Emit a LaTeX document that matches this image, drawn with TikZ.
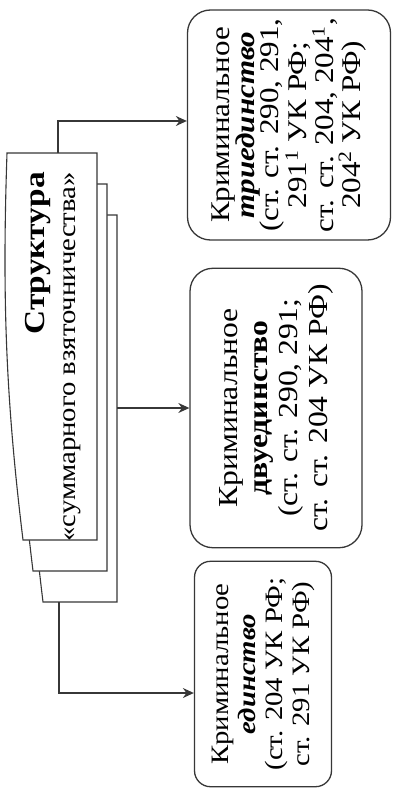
\documentclass[tikz,border=0pt]{standalone}
\usepackage{fontspec}
\setmainfont{Liberation Serif}
\usepackage{tikz}
\usetikzlibrary{arrows.meta,positioning}
\definecolor{inkgray}{RGB}{55,55,55}

\begin{document}
\begin{tikzpicture}[x=1pt, y=1pt,
    outcome/.style={rectangle, draw=inkgray, line width=1.3pt, rounded corners=23pt, align=center, inner sep=0pt, fill=white, xscale=1.15},
    sheet/.style={draw=inkgray, line width=1.1pt, fill=white},
    conn/.style={draw=inkgray, line width=1.2pt, -{Stealth[length=11pt, width=10pt]}}
]
\begin{scope}[rotate=90, transform shape]
    \useasboundingbox (-791,-392) rectangle (0,0);

    % stacked sheets of the structure
    \draw[sheet, shift={(-62,-20)}] (-540,-97) -- (-540,-23) .. controls (-400,-6) and (-300,-2) .. (-153,-7) -- (-153,-97) -- cycle;
    \draw[sheet, shift={(-31,-10)}] (-540,-97) -- (-540,-23) .. controls (-400,-6) and (-300,-2) .. (-153,-7) -- (-153,-97) -- cycle;
    \draw[sheet] (-540,-97) -- (-540,-23) .. controls (-400,-6) and (-300,-2) .. (-153,-7) -- (-153,-97) -- cycle;
    \node[anchor=east, align=right, inner sep=0pt, xscale=1.15, font=\fontsize{25}{31}\selectfont] (struct) at (-172,-53)
        {{\fontsize{29}{31}\selectfont\textbf{Структура}}\\«суммарного взяточничества»};

    \coordinate (pg1e) at (-153,-58);
    \coordinate (pg3s) at (-408,-117);
    \coordinate (pg3w) at (-602,-59);
    \coordinate (b1) at (-121,-58);
    \coordinate (b3) at (-693,-59);

    \node[outcome, minimum width=200pt, minimum height=203pt, font=\fontsize{27}{24.5}\selectfont] (trio) at (-125,-289)
        {Криминальное\\ \textbf{\textit{триединство}}\\ (ст. ст. 290, 291,\\ 291\textsuperscript{1} УК РФ;\\ ст. ст. 204, 204\textsuperscript{1},\\ 204\textsuperscript{2} УК РФ)};
    \node[outcome, minimum width=243pt, minimum height=172pt, font=\fontsize{27.5}{30}\selectfont] (dvue) at (-408,-276)
        {Криминальное\\ \textbf{двуединство}\\ (ст. ст. 290, 291;\\ ст. ст. 204 УК РФ)};
    \node[outcome, rounded corners=16pt, minimum width=196pt, minimum height=137pt, font=\fontsize{25}{27}\selectfont] (edin) at (-674,-263)
        {Криминальное\\ \textbf{\textit{единство}}\\ (ст. 204 УК РФ;\\ ст. 291 УК РФ)};

    \draw[conn] (pg1e) -- (b1) -- (b1 |- trio.north);
    \draw[conn] (pg3s) -- (pg3s |- dvue.north);
    \draw[conn] (pg3w) -- (b3) -- (b3 |- edin.north);
\end{scope}
\end{tikzpicture}
\end{document}
